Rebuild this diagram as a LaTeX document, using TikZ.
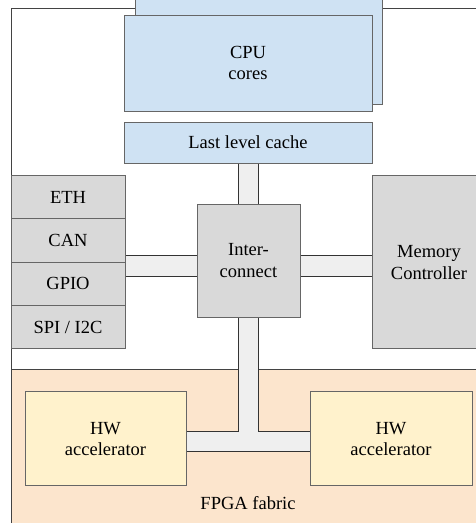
\documentclass[tikz,border=0pt]{standalone}
\usepackage{fontspec}
\setmainfont{Liberation Serif}
\usetikzlibrary{positioning,calc}
\definecolor{cpublue}{HTML}{CFE2F3}
\definecolor{periph}{HTML}{D9D9D9}
\definecolor{barfill}{HTML}{EFEFEF}
\definecolor{fabric}{HTML}{FCE5CD}
\definecolor{accfill}{HTML}{FFF2CC}
\definecolor{boxline}{HTML}{666666}
\definecolor{barline}{HTML}{333333}
\definecolor{frameline}{HTML}{434343}
\pgfdeclarelayer{regions}
\pgfdeclarelayer{bars}
\pgfsetlayers{regions,bars,main}
\tikzset{
  blk/.style={draw=boxline,line width=1pt,outer sep=0pt,inner sep=0pt,align=center},
  bar/.style={draw=barline,fill=barfill,line width=1pt},
}

\begin{document}
\begin{tikzpicture}[x=1pt,y=-1pt,font=\fontsize{18.5}{21.5}\selectfont]
		\useasboundingbox (0,0) rectangle (476,523);
		% cpu side
		\node[blk,fill=cpublue,minimum width=247pt,minimum height=116pt] (cpuback) at (258.5,46) {};
		\node[blk,fill=cpublue,minimum width=248pt,minimum height=96pt] (cpu) at (248,63) {CPU\\cores};
		\node[blk,fill=cpublue,minimum width=248pt,minimum height=41pt] (llc) at (248,142.5) {Last level cache};
		\node[blk,fill=periph,minimum width=103pt,minimum height=113pt] (ic) at (248.5,260.5) {Inter-\\connect};
		% peripherals
		\node[blk,fill=periph,minimum width=114pt,minimum height=43.3pt] (eth) at (68,197.3) {ETH};
		\node[blk,fill=periph,minimum width=114pt,minimum height=43.3pt,below=0pt of eth] (can) {CAN};
		\node[blk,fill=periph,minimum width=114pt,minimum height=43.3pt,below=0pt of can] (gpio) {GPIO};
		\node[blk,fill=periph,minimum width=114pt,minimum height=43.3pt,below=0pt of gpio] (spi) {SPI / I2C};
		\node[blk,fill=periph,minimum width=114pt,minimum height=173.3pt] (mem) at (429,262.3) {Memory\\Controller};
		% fpga side
		\node[blk,fill=accfill,minimum width=161pt,minimum height=94.3pt] (acc1) at (105.5,438.8) {HW\\accelerator};
		\node[blk,fill=accfill,minimum width=162pt,minimum height=94.3pt] (acc2) at (391,438.8) {HW\\accelerator};
		\node (fab) at (248,502.7) {FPGA fabric};
		\begin{pgfonlayer}{regions}
		\draw[frameline,fill=white,line width=1pt] (11,8) rectangle (486,369);
		\draw[frameline,fill=fabric,line width=1pt] (11,369) rectangle (486,540);
		\end{pgfonlayer}
		\begin{pgfonlayer}{bars}
		\draw[bar] ($(llc.south)+(-10,0)$) rectangle ($(ic.north)+(10,0)$);
		\draw[bar] ($(ic.west)+(0,-4.8)$) rectangle ($(ic.west -| can.east)+(0,16.2)$);
		\draw[bar] ($(ic.east)+(0,-4.8)$) rectangle ($(ic.east -| mem.west)+(0,16.2)$);
		\draw[bar] ($(ic.south)+(-10,0)$) |- ($(acc1.east)+(0,-7.8)$) -- ($(acc1.east)+(0,12.9)$)
			-- ($(acc2.west)+(0,12.9)$) -- ($(acc2.west)+(0,-7.8)$) -| ($(ic.south)+(10,0)$) -- cycle;
		\end{pgfonlayer}
		\end{tikzpicture}
\end{document}
